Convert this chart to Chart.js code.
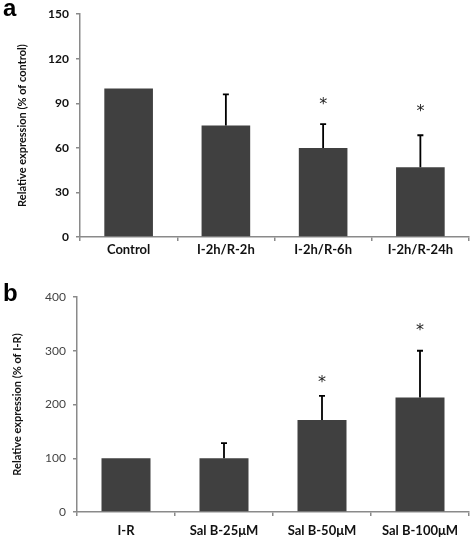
<!DOCTYPE html>
<html>
<head>
<meta charset="utf-8">
<script src="https://cdn.jsdelivr.net/npm/chart.js@4"></script>
<style>
  html, body { margin: 0; padding: 0; background: #fff; }
  #wrap { position: relative; width: 472px; height: 539px; }
  .panel { position: absolute; left: 0; }
  .lbl { position: absolute; font-family: Arial, "Liberation Sans", sans-serif; font-weight: bold; font-size: 24px; color: #000; }
</style>
</head>
<body>
<div id="wrap">
  <div class="panel" style="top:0;width:472px;height:270px;"><canvas id="ca"></canvas></div>
  <div class="panel" style="top:270px;width:472px;height:269px;"><canvas id="cb"></canvas></div>
  <div class="lbl" style="left:3px;top:-6px;">a</div>
  <div class="lbl" style="left:3px;top:279px;">b</div>
</div>
<script>
// ---- Panel a data ----
const catsA = ["Control", "I-2h/R-2h", "I-2h/R-6h", "I-2h/R-24h"];
const meansA = [100, 75, 60, 47];
const errA = [0, 21, 16, 21.5];
const starA = [null, null, 91, 86];      // asterisk position (data units)
const ticksA = [0, 30, 60, 90, 120, 150];

// ---- Panel b data ----
const catsB = ["I-R", "Sal B-25\u03bcM", "Sal B-50\u03bcM", "Sal B-100\u03bcM"];
const meansB = [100, 100, 171, 213];
const errB = [0, 28, 45, 87];
const starB = [null, null, 246, 343];
const ticksB = [0, 100, 200, 300, 400];

const FONT = "Lato, 'Open Sans', sans-serif";

const errPlugin = {
  id: 'errStars',
  afterDatasetsDraw(chart, args, opts) {
    const ctx = chart.ctx;
    const meta = chart.getDatasetMeta(0);
    const y = chart.scales.y;
    ctx.save();
    meta.data.forEach((bar, i) => {
      const m = opts.means[i], e = opts.errs[i];
      if (e > 0) {
        const y0 = y.getPixelForValue(m);
        const y1 = y.getPixelForValue(m + e);
        ctx.strokeStyle = '#000';
        ctx.lineWidth = 1.8;
        ctx.beginPath();
        ctx.moveTo(bar.x, y0);
        ctx.lineTo(bar.x, y1);
        ctx.moveTo(bar.x - 3, y1);
        ctx.lineTo(bar.x + 3, y1);
        ctx.stroke();
      }
      if (opts.stars[i] != null) {
        ctx.fillStyle = '#222';
        ctx.font = "16px 'DejaVu Sans', sans-serif";
        ctx.textAlign = 'center';
        ctx.textBaseline = 'middle';
        ctx.fillText('*', bar.x, y.getPixelForValue(opts.stars[i]) + 3);
      }
    });
    ctx.restore();
  }
};

function makeChart(id, cats, means, errs, stars, ticks, cfg) {
  return new Chart(document.getElementById(id), {
    type: 'bar',
    data: {
      labels: cats,
      datasets: [{
        data: means,
        backgroundColor: '#404040',
        borderWidth: 0,
        categoryPercentage: 1,
        barPercentage: 0.5
      }]
    },
    options: {
      responsive: true,
      maintainAspectRatio: false,
      animation: false,
      layout: { padding: { top: cfg.padTop, right: 3, left: 0, bottom: 0 } },
      plugins: {
        legend: { display: false },
        tooltip: { enabled: false },
        errStars: { means: means, errs: errs, stars: stars }
      },
      scales: {
        x: {
          offset: true,
          border: { color: '#8a8a8a', width: 1.5 },
          grid: { display: true, drawOnChartArea: false, drawTicks: true, tickLength: 4, color: '#8a8a8a', offset: true, lineWidth: 1.5 },
          ticks: { color: '#111', font: { family: FONT, size: 13, weight: 'bold' }, padding: cfg.xPad, maxRotation: 0, autoSkip: false },
          afterFit(s) { s.height = cfg.xH; }
        },
        y: {
          min: ticks[0],
          max: ticks[ticks.length - 1],
          afterBuildTicks(s) { s.ticks = ticks.map(v => ({ value: v })); },
          border: { color: '#8a8a8a', width: 1.5 },
          grid: { display: true, drawOnChartArea: false, drawTicks: true, tickLength: 4, color: '#8a8a8a', lineWidth: 1.5 },
          ticks: { color: cfg.yTickColor, font: { family: FONT, size: 12, weight: cfg.yTickWeight }, padding: 7 },
          title: {
            display: true,
            text: cfg.yTitle,
            color: '#111',
            font: { family: FONT, size: 11, weight: 'bold' },
            padding: { top: cfg.titlePad, bottom: 0 }
          },
          afterFit(s) { s.width = cfg.yW; }
        }
      }
    },
    plugins: [errPlugin]
  });
}

makeChart('ca', catsA, meansA, errA, starA, ticksA, {
  padTop: 7, xPad: 1, xH: 33, yW: 80, titlePad: 16,
  yTickColor: '#111', yTickWeight: 'bold',
  yTitle: 'Relative expression (% of control)'
});
makeChart('cb', catsB, meansB, errB, starB, ticksB, {
  padTop: 27, xPad: 7, xH: 27, yW: 77, titlePad: 11,
  yTickColor: '#444', yTickWeight: 'normal',
  yTitle: 'Relative expression (% of I-R)'
});
</script>
</body>
</html>
